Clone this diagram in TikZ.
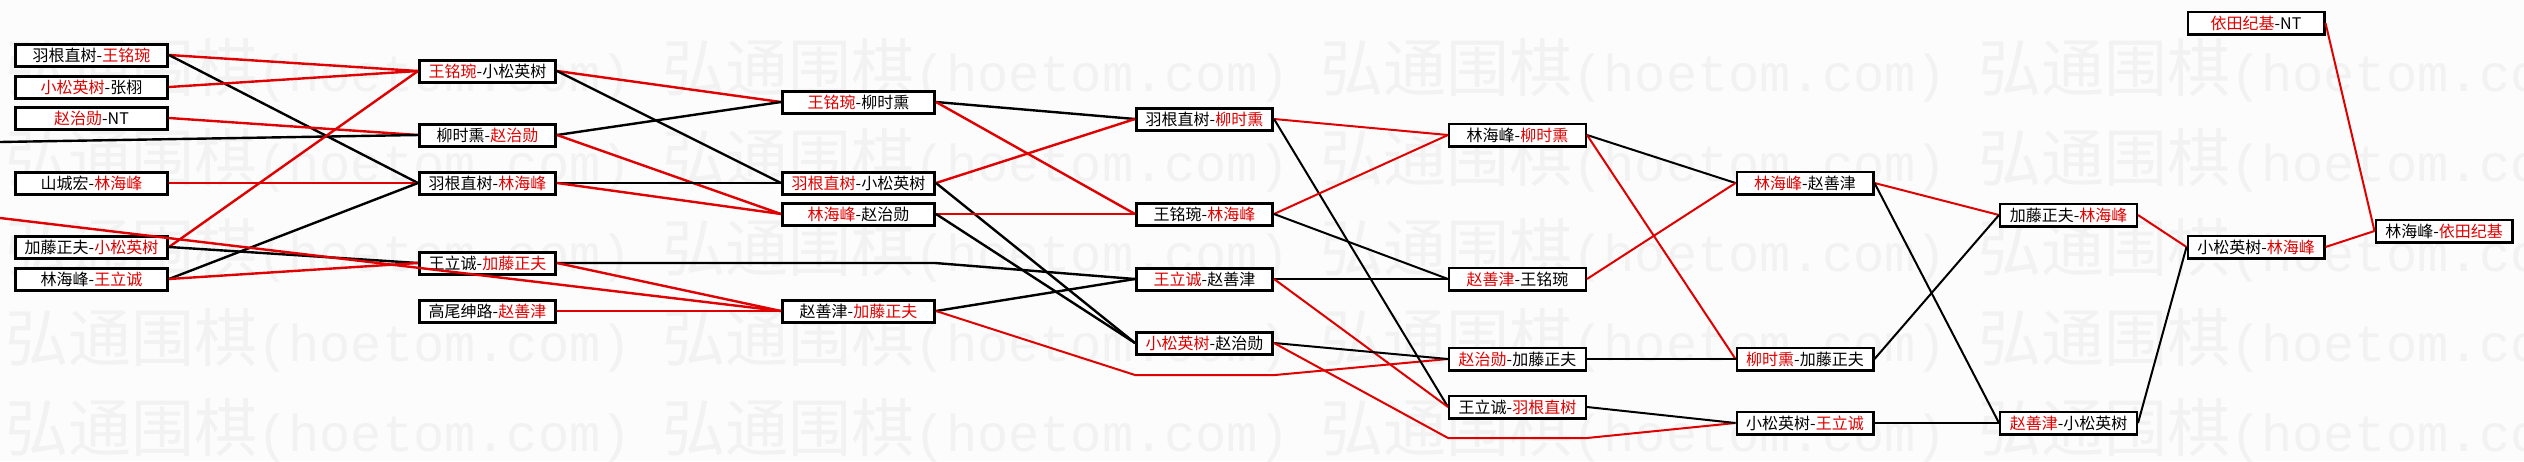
\documentclass[tikz,border=0pt]{standalone}
\usepackage{fontspec}
\newfontfamily\cjk{Noto Sans CJK SC}
\newfontfamily\wmono{Liberation Mono}
\definecolor{rd}{RGB}{225,0,0}
\definecolor{bgc}{RGB}{252,252,252}
\definecolor{wmc}{RGB}{242,242,242}
\newcommand{\rw}[1]{\textcolor{rd}{#1}}
\newcommand{\wmtext}{{\cjk\fontsize{63}{63}\selectfont 弘通围棋}{\wmono\fontsize{52}{52}\selectfont (hoetom.com) }}
\tikzset{
  box/.style={draw=black, fill=white, line width=3pt, inner sep=0pt,
    minimum height=22pt, font=\cjk\fontsize{16}{16}\selectfont, text=black},
  wide/.style={minimum width=152pt},
  narrow/.style={minimum width=136pt},
  thinbox/.style={line width=2.2pt, minimum height=22.8pt, minimum width=136.8pt},
  rl/.style={draw=rd, line width=2.4pt, line join=round},
  bl/.style={draw=black, line width=2.4pt, line join=round},
  rt/.style={draw=rd, line width=2pt, line join=round},
  bt/.style={draw=black, line width=2pt, line join=round},
  wm/.style={anchor=base west, inner sep=0pt, text=wmc}
}
\begin{document}
\begin{tikzpicture}[x=1pt,y=-1pt]
\useasboundingbox (0,0) rectangle (2524,461);
\fill[bgc] (0,0) rectangle (2524,461);
% watermark
\begin{scope}
\clip (0,0) rectangle (2524,461);
\foreach \yy [count=\i] in {91,181,271,361,451} {
  \node[wm] (wm\i) at (5,\yy) {\wmtext\wmtext\wmtext\wmtext};
}
\end{scope}
% column 1
\node[box,wide] (c1a) at (91.5,55)  {羽根直树-\rw{王铭琬}};
\node[box,wide] (c1b) at (91.5,87)  {\rw{小松英树}-张栩};
\node[box,wide] (c1c) at (91.5,118) {\rw{赵治勋}-NT};
\node[box,wide] (c1d) at (91.5,183) {山城宏-\rw{林海峰}};
\node[box,wide] (c1e) at (91.5,247) {加藤正夫-\rw{小松英树}};
\node[box,wide] (c1f) at (91.5,279) {林海峰-\rw{王立诚}};
% column 2
\node[box,narrow] (c2a) at (487.5,71)  {\rw{王铭琬}-小松英树};
\node[box,narrow] (c2b) at (487.5,135) {柳时熏-\rw{赵治勋}};
\node[box,narrow] (c2c) at (487.5,183) {羽根直树-\rw{林海峰}};
\node[box,narrow] (c2d) at (487.5,263) {王立诚-\rw{加藤正夫}};
\node[box,narrow] (c2e) at (487.5,311) {高尾绅路-\rw{赵善津}};
% column 3
\node[box,wide] (c3a) at (858.5,102) {\rw{王铭琬}-柳时熏};
\node[box,wide] (c3b) at (858.5,183) {\rw{羽根直树}-小松英树};
\node[box,wide] (c3c) at (858.5,214) {\rw{林海峰}-赵治勋};
\node[box,wide] (c3d) at (858.5,311) {赵善津-\rw{加藤正夫}};
% column 4
\node[box,narrow] (c4a) at (1204.5,119) {羽根直树-\rw{柳时熏}};
\node[box,narrow] (c4b) at (1204.5,214) {王铭琬-\rw{林海峰}};
\node[box,narrow] (c4c) at (1204.5,279) {\rw{王立诚}-赵善津};
\node[box,narrow] (c4d) at (1204.5,343) {\rw{小松英树}-赵治勋};
% column 5
\node[box,thinbox] (c5a) at (1517.5,135) {林海峰-\rw{柳时熏}};
\node[box,thinbox] (c5b) at (1517.5,279) {\rw{赵善津}-王铭琬};
\node[box,thinbox] (c5c) at (1517.5,359) {\rw{赵治勋}-加藤正夫};
\node[box,thinbox] (c5d) at (1517.5,407) {王立诚-\rw{羽根直树}};
% column 6
\node[box,thinbox] (c6a) at (1805,183) {\rw{林海峰}-赵善津};
\node[box,thinbox] (c6b) at (1805,359) {\rw{柳时熏}-加藤正夫};
\node[box,thinbox] (c6c) at (1805,423) {小松英树-\rw{王立诚}};
% column 7
\node[box,thinbox] (c7a) at (2068.5,215) {加藤正夫-\rw{林海峰}};
\node[box,thinbox] (c7b) at (2068.5,423) {\rw{赵善津}-小松英树};
% column 8
\node[box,thinbox] (c8a) at (2256,23)  {\rw{依田纪基}-NT};
\node[box,thinbox] (c8b) at (2256,247) {小松英树-\rw{林海峰}};
% column 9
\node[box,thinbox] (c9) at (2444,231) {林海峰-\rw{依田纪基}};
% free ends and bends
\coordinate (e1) at (0,142);
\coordinate (e2) at (0,218);
\coordinate (k1) at (935,263);
\coordinate (k2) at (1135,375);
\coordinate (k3) at (1275,375);
\coordinate (k4) at (1448,438);
\coordinate (k5) at (1587,438);
% col1 -> col2
\draw[rl] (c1a.east) -- (c2a.west);
\draw[bl] (c1a.east) -- (c2c.west);
\draw[rl] (c1b.east) -- (c2a.west);
\draw[rl] (c1c.east) -- (c2b.west);
\draw[bl] (e1) -- (c2b.west);
\draw[rl] (c1d.east) -- (c2c.west);
\draw[rl] (c1e.east) -- (c2a.west);
\draw[bl] (c1e.east) -- (c2d.west);
\draw[bl] (c1f.east) -- (c2c.west);
\draw[rl] (c1f.east) -- (c2d.west);
\draw[rl] (e2) -- (c3d.west);
% col2 -> col3
\draw[rl] (c2a.east) -- (c3a.west);
\draw[bl] (c2a.east) -- (c3b.west);
\draw[bl] (c2b.east) -- (c3a.west);
\draw[rl] (c2b.east) -- (c3c.west);
\draw[bl] (c2c.east) -- (c3b.west);
\draw[rl] (c2c.east) -- (c3c.west);
\draw[bl] (c2d.east) -- (k1) -- (c4c.west);
\draw[rl] (c2d.east) -- (c3d.west);
\draw[rl] (c2e.east) -- (c3d.west);
% col3 -> col4
\draw[bl] (c3a.east) -- (c4a.west);
\draw[rl] (c3a.east) -- (c4b.west);
\draw[rl] (c3b.east) -- (c4a.west);
\draw[bl] (c3b.east) -- (c4d.west);
\draw[rl] (c3c.east) -- (c4b.west);
\draw[bl] (c3c.east) -- (c4d.west);
\draw[bl] (c3d.east) -- (c4c.west);
\draw[rt] (c3d.east) -- (k2) -- (k3) -- (c5c.west);
% col4 -> col5
\draw[rt] (c4a.east) -- (c5a.west);
\draw[bt] (c4a.east) -- (c5d.west);
\draw[rt] (c4b.east) -- (c5a.west);
\draw[bt] (c4b.east) -- (c5b.west);
\draw[bt] (c4c.east) -- (c5b.west);
\draw[rt] (c4c.east) -- (c5d.west);
\draw[bt] (c4d.east) -- (c5c.west);
\draw[rt] (c4d.east) -- (k4) -- (k5) -- (c6c.west);
% col5 -> col6
\draw[bt] (c5a.east) -- (c6a.west);
\draw[rt] (c5a.east) -- (c6b.west);
\draw[rt] (c5b.east) -- (c6a.west);
\draw[bt] (c5c.east) -- (c6b.west);
\draw[bt] (c5d.east) -- (c6c.west);
% col6 -> col7
\draw[rt] (c6a.east) -- (c7a.west);
\draw[bt] (c6a.east) -- (c7b.west);
\draw[bt] (c6b.east) -- (c7a.west);
\draw[bt] (c6c.east) -- (c7b.west);
% col7 -> col8 -> col9
\draw[rt] (c7a.east) -- (c8b.west);
\draw[bt] (c7b.east) -- (c8b.west);
\draw[rt] (c8b.east) -- (c9.west);
\draw[rt] (c8a.east) -- (c9.west);
\end{tikzpicture}
\end{document}
